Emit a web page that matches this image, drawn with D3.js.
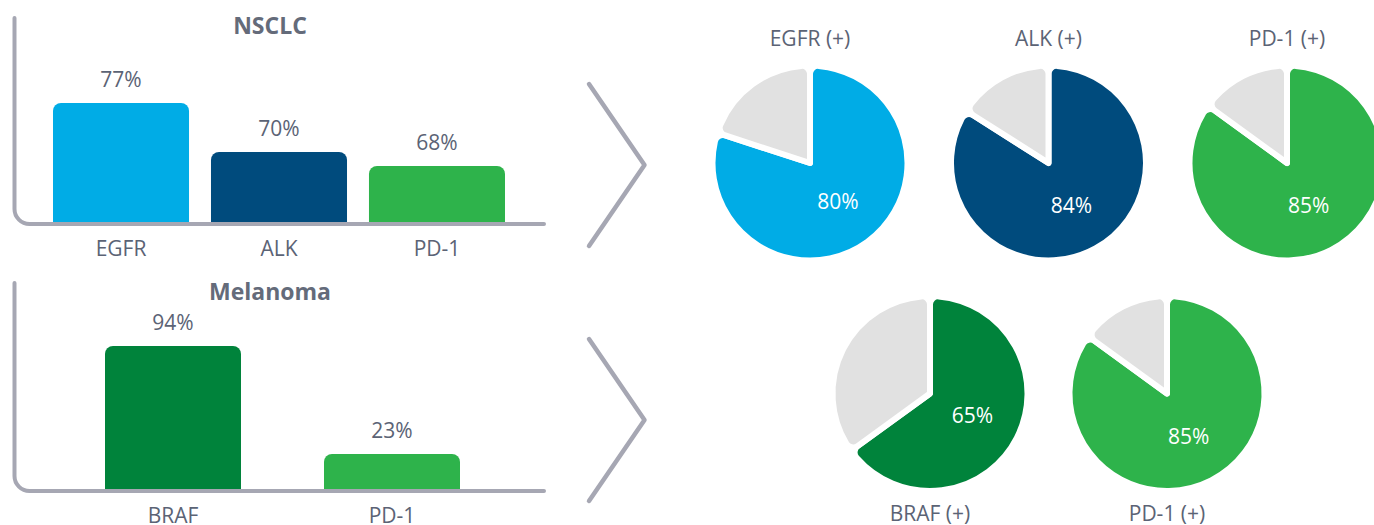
<!DOCTYPE html>
<html><head><meta charset="utf-8">
<script src="https://cdn.jsdelivr.net/npm/d3@7"></script>
<style>
body{margin:0;background:#fff;}
svg{display:block;font-family:"Open Sans",sans-serif;}
</style>
</head><body>
<svg id="c" width="1374" height="525"></svg>
<script>
// ---- data ----
const nsclcTitle = "NSCLC";
const nsclcCategories = ["EGFR", "ALK", "PD-1"];
const nsclcValues = [77, 70, 68];
const melanomaTitle = "Melanoma";
const melanomaCategories = ["BRAF", "PD-1"];
const melanomaValues = [94, 23];
const nsclcPieLabels = ["EGFR (+)", "ALK (+)", "PD-1 (+)"];
const nsclcPieValues = [80, 84, 85];
const melanomaPieLabels = ["BRAF (+)", "PD-1 (+)"];
const melanomaPieValues = [65, 85];

// ---- styles ----
const nsclcColors = ["#00ace6", "#004b7d", "#2eb34b"];
const melanomaColors = ["#00833b", "#2eb34b"];
const restColor = "#e1e1e1";
const axisColor = "#a6a7b3";
const textColor = "#5b6375";
const titleColor = "#646b7a";

const svg = d3.select("#c");

function topRounded(x, y, w, h, r) {
  r = Math.min(r, h, w / 2);
  return `M${x},${y + h}V${y + r}A${r},${r} 0 0 1 ${x + r},${y}H${x + w - r}A${r},${r} 0 0 1 ${x + w},${y + r}V${y + h}Z`;
}

function barPanel(cfg) {
  const g = svg.append("g");
  const x = d3.scaleBand().domain(cfg.categories).range(cfg.xRange).paddingInner(cfg.padInner).paddingOuter(0);
  const y = d3.scaleLinear().domain(cfg.yDomain).range([cfg.base, cfg.yTop]);
  const data = cfg.categories.map((c, i) => ({c, v: cfg.values[i], col: cfg.colors[i]}));

  // axis (L-shaped with rounded corner)
  const ax = 14.5, ay = cfg.base + 2, rr = 15;
  g.append("path")
    .attr("d", `M${ax},${cfg.axisTop}V${ay - rr}A${rr},${rr} 0 0 0 ${ax + rr},${ay}H544`)
    .attr("fill", "none").attr("stroke", axisColor).attr("stroke-width", 4)
    .attr("stroke-linecap", "round");

  g.selectAll("path.bar").data(data).join("path").attr("class", "bar")
    .attr("d", d => topRounded(x(d.c), y(d.v), x.bandwidth(), cfg.base - y(d.v), 8))
    .attr("fill", d => d.col);

  g.selectAll("text.val").data(data).join("text").attr("class", "val")
    .attr("x", d => x(d.c) + x.bandwidth() / 2)
    .attr("y", d => y(d.v) - 16.5)
    .attr("text-anchor", "middle").attr("font-size", 21).attr("fill", textColor)
    .text(d => d.v + "%");

  g.selectAll("text.cat").data(data).join("text").attr("class", "cat")
    .attr("x", d => x(d.c) + x.bandwidth() / 2)
    .attr("y", cfg.catY)
    .attr("text-anchor", "middle").attr("font-size", 21).attr("fill", textColor)
    .text(d => d.c);

  g.append("text").attr("x", 270).attr("y", cfg.titleY)
    .attr("text-anchor", "middle").attr("font-size", 23).attr("font-weight", 700)
    .attr("fill", titleColor).text(cfg.title);
}

barPanel({
  title: nsclcTitle, categories: nsclcCategories, values: nsclcValues, colors: nsclcColors,
  xRange: [53, 505], padInner: 0.139, yDomain: [60, 77], base: 222, yTop: 103,
  axisTop: 18, catY: 255.5, titleY: 34
});
barPanel({
  title: melanomaTitle, categories: melanomaCategories, values: melanomaValues, colors: melanomaColors,
  xRange: [105, 460], padInner: 0.379, yDomain: [0, 94], base: 489, yTop: 346,
  axisTop: 283, catY: 522.5, titleY: 300
});

// chevrons
function chevron(cy) {
  svg.append("path")
    .attr("d", `M589,${cy - 81}L644.5,${cy}L589,${cy + 81}`)
    .attr("fill", "none").attr("stroke", axisColor).attr("stroke-width", 4.5)
    .attr("stroke-linecap", "round").attr("stroke-linejoin", "round");
}
chevron(165);
chevron(420);

// pies
const pie = d3.pie().sort(null).value(d => d);
const arc = d3.arc().innerRadius(0).outerRadius(97.5).cornerRadius(8);
const labelArc = d3.arc().innerRadius(0).outerRadius(95);

function pieRow(cfg) {
  const x = d3.scalePoint().domain(d3.range(cfg.values.length)).range(cfg.xRange);
  cfg.values.forEach((v, i) => {
    const g = svg.append("g").attr("transform", `translate(${x(i)},${cfg.cy})`);
    const arcs = pie([v, 100 - v]);
    g.selectAll("path").data(arcs).join("path")
      .attr("d", arc)
      .attr("fill", (d, j) => j === 0 ? cfg.colors[i] : restColor)
      .attr("stroke", "#fff").attr("stroke-width", 6).attr("stroke-linejoin", "round");
    const c = labelArc.centroid(arcs[0]);
    g.append("text").attr("x", c[0]).attr("y", c[1])
      .attr("text-anchor", "middle").attr("dominant-baseline", "central")
      .attr("font-size", 21).attr("fill", "#fff").text(v + "%");
    svg.append("text").attr("x", x(i)).attr("y", cfg.labelY)
      .attr("text-anchor", "middle").attr("font-size", 21).attr("fill", textColor)
      .text(cfg.labels[i]);
  });
}
pieRow({values: nsclcPieValues, labels: nsclcPieLabels, colors: nsclcColors,
  xRange: [810, 1287], cy: 163, labelY: 45.5});
pieRow({values: melanomaPieValues, labels: melanomaPieLabels, colors: melanomaColors,
  xRange: [930, 1167], cy: 393.5, labelY: 520.5});
</script>
</body></html>
